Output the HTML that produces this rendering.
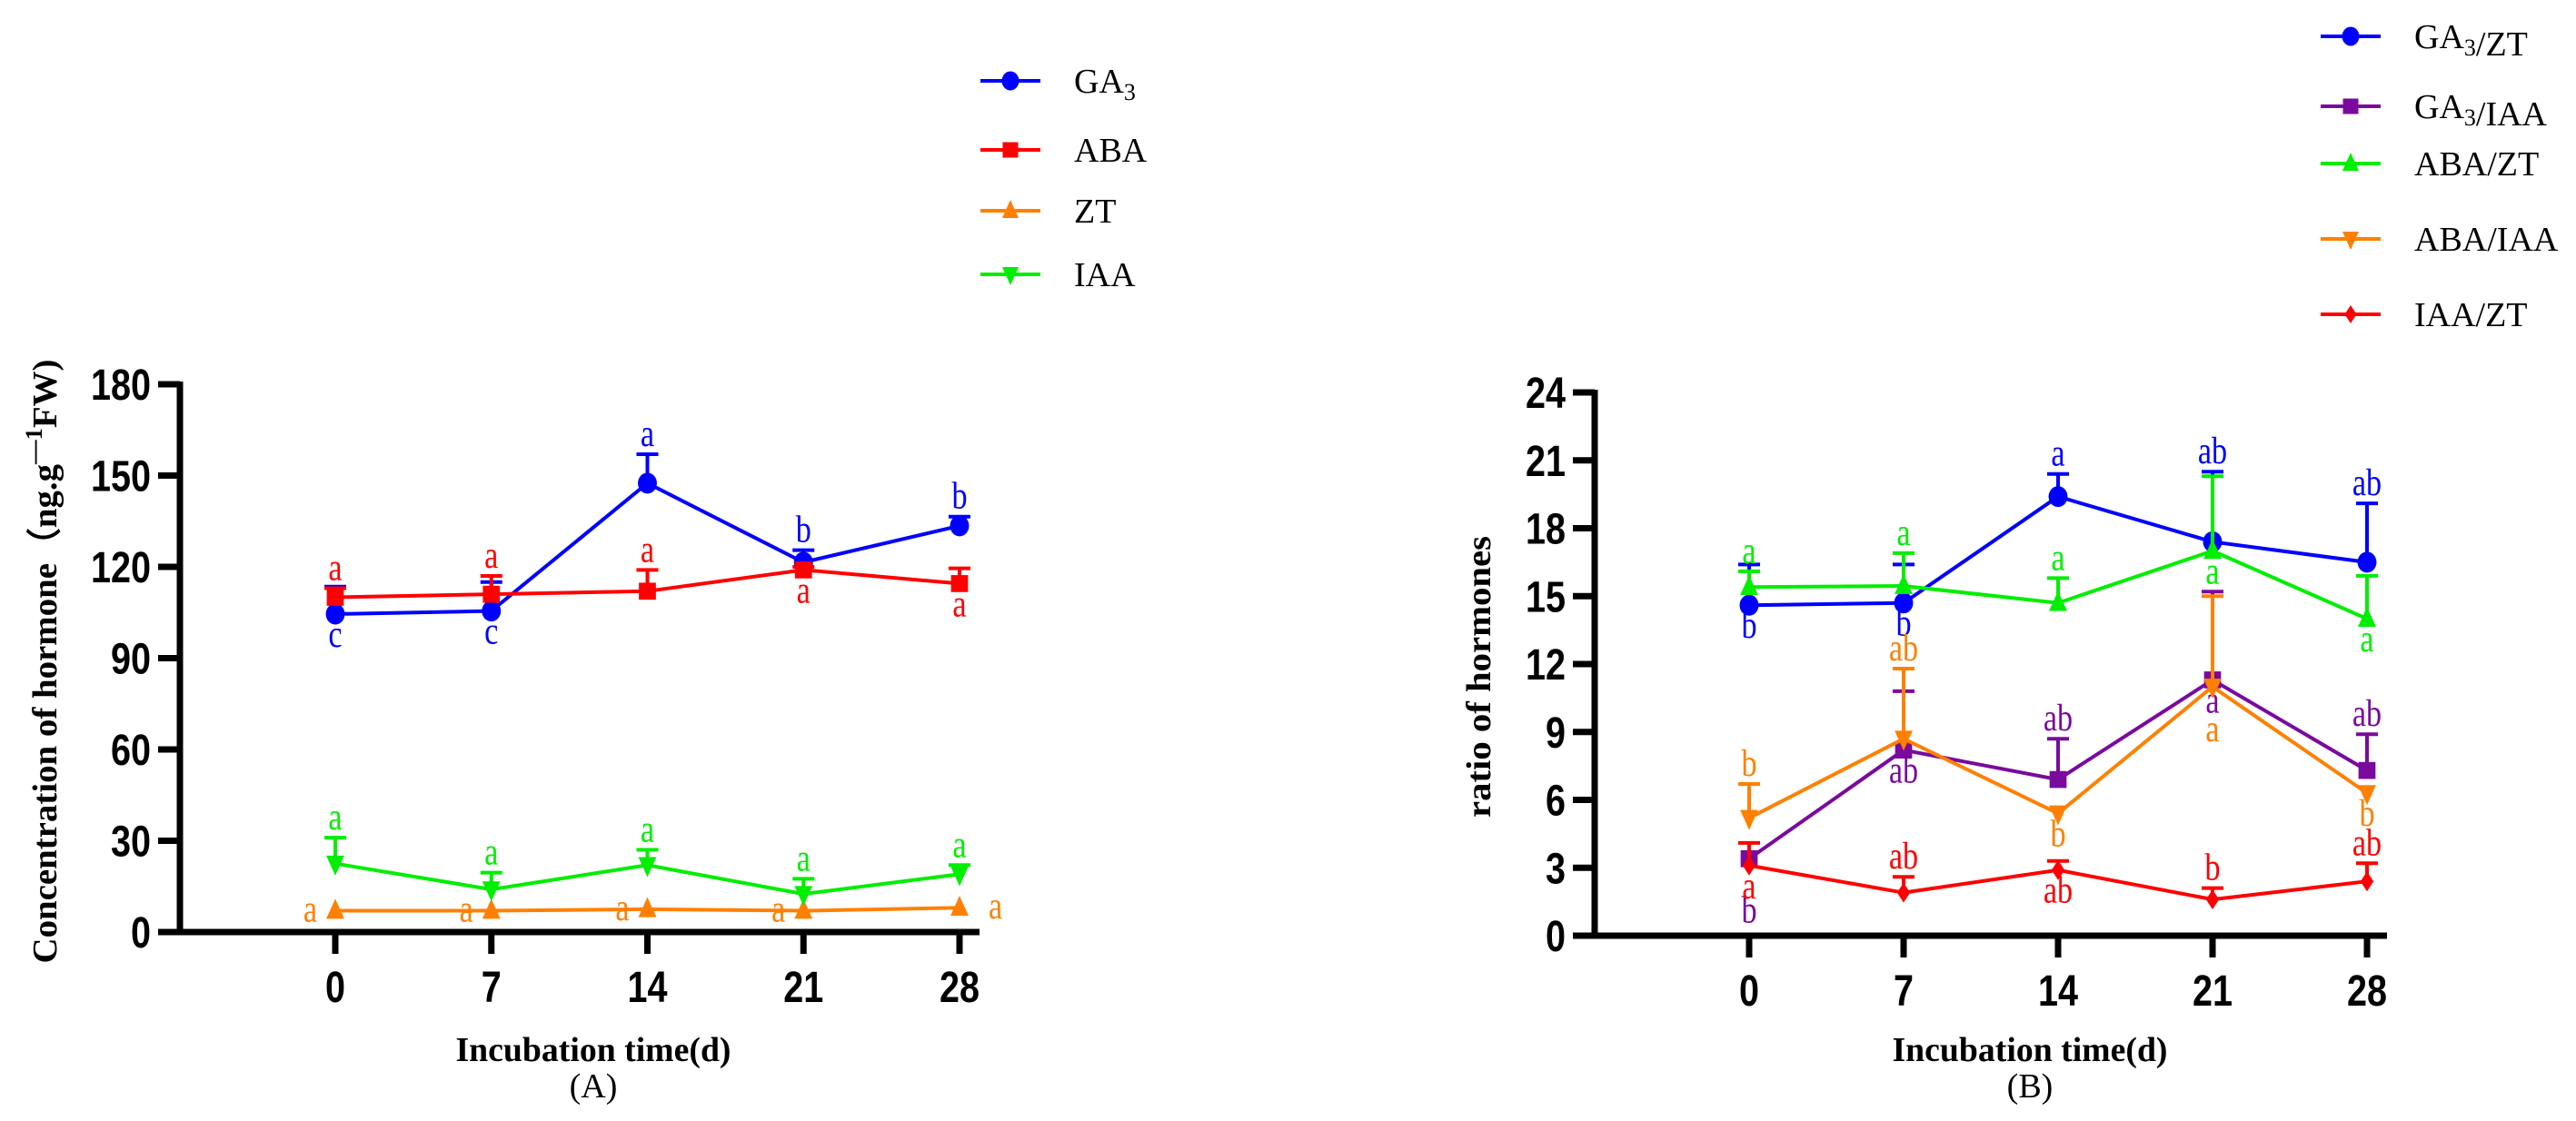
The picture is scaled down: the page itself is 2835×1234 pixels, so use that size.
<!DOCTYPE html>
<html><head><meta charset="utf-8">
<style>
html,body{margin:0;padding:0;background:#fff;}
svg{display:block;}
.tick{font-family:"Liberation Sans",sans-serif;font-weight:bold;font-size:46px;}
.ser{font-family:"Liberation Serif",serif;}
</style></head>
<body>
<svg id="fig" width="2835" height="1234" viewBox="0 0 2835 1234" xmlns="http://www.w3.org/2000/svg">
</svg>
<script>
// ---------- shared categories ----------
const days = [0, 7, 14, 21, 28];
// ---------- Panel A data ----------
const yTicksA = [0, 30, 60, 90, 120, 150, 180];
const ga3 = [104.5, 105.5, 147.5, 121.5, 133.5];
const ga3Err = [113.5, 115, 157, 125.5, 136.5];
const ga3Lab = ['c', 'c', 'a', 'b', 'b'];
const ga3Side = ['down', 'down', 'up', 'up', 'up'];
const aba = [110, 111, 112, 119, 114.5];
const abaErr = [113, 117, 119, 120, 119.5];
const abaLab = ['a', 'a', 'a', 'a', 'a'];
const abaSide = ['up', 'up', 'up', 'down', 'down'];
const zt = [7, 7, 7.5, 7, 8];
const ztErr = [7, 7, 7.5, 7, 8];
const ztLab = ['a', 'a', 'a', 'a', 'a'];
const ztSide = ['left', 'left', 'left', 'left', 'right'];
const iaa = [22.5, 14, 22, 12.5, 19];
const iaaErr = [31, 19.5, 27, 17.5, 22];
const iaaLab = ['a', 'a', 'a', 'a', 'a'];
const iaaSide = ['up', 'up', 'up', 'up', 'up'];
// ---------- Panel B data ----------
const yTicksB = [0, 3, 6, 9, 12, 15, 18, 21, 24];
const ga3zt = [14.6, 14.7, 19.4, 17.4, 16.5];
const ga3ztErr = [16.4, 16.4, 20.4, 20.5, 19.1];
const ga3ztLab = ['b', 'b', 'a', 'ab', 'ab'];
const ga3ztSide = ['down', 'down', 'up', 'up', 'up'];
const ga3iaa = [3.4, 8.2, 6.9, 11.3, 7.3];
const ga3iaaErr = [3.4, 10.8, 8.7, 15.2, 8.9];
const ga3iaaLab = ['b', 'ab', 'ab', 'a', 'ab'];
const ga3iaaSide = ['down2', 'down', 'up', 'down', 'up'];
const abazt = [15.4, 15.45, 14.7, 17.0, 14.0];
const abaztErr = [16.1, 16.9, 15.8, 20.3, 15.9];
const abaztLab = ['a', 'a', 'a', 'a', 'a'];
const abaztSide = ['up', 'up', 'up', 'down', 'down'];
const abaiaa = [5.2, 8.7, 5.4, 11.0, 6.3];
const abaiaaErr = [6.7, 11.8, 5.4, 15.0, 6.3];
const abaiaaLab = ['b', 'ab', 'b', 'a', 'b'];
const abaiaaSide = ['up', 'up', 'down', 'down3', 'down'];
const iaazt = [3.1, 1.9, 2.9, 1.6, 2.4];
const iaaztErr = [4.1, 2.6, 3.3, 2.1, 3.2];
const iaaztLab = ['a', 'ab', 'ab', 'b', 'ab'];
const iaaztSide = ['down', 'up', 'down', 'up', 'up'];

const NS = 'http://www.w3.org/2000/svg';
const svg = document.getElementById('fig');
function mk(tag, attrs, parent, txt) {
  const e = document.createElementNS(NS, tag);
  for (const k in attrs) e.setAttribute(k, attrs[k]);
  if (txt !== undefined) e.textContent = txt;
  (parent || svg).appendChild(e);
  return e;
}
function marker(g, shape, x, y, c, s) {
  let e;
  if (shape === 'circle') e = mk('ellipse', {cx: x, cy: y, rx: s * 0.95, ry: s * 1.05, fill: c}, g);
  else if (shape === 'square') e = mk('rect', {x: x - s * 0.85, y: y - s * 0.85, width: 1.7 * s, height: 1.7 * s, fill: c}, g);
  else if (shape === 'tri') e = mk('polygon', {points: `${x},${y - s * 1.2} ${x - s * 0.9},${y + s * 0.8} ${x + s * 0.9},${y + s * 0.8}`, fill: c}, g);
  else if (shape === 'itri') e = mk('polygon', {points: `${x},${y + s * 1.2} ${x - s * 0.9},${y - s * 0.8} ${x + s * 0.9},${y - s * 0.8}`, fill: c}, g);
  else e = mk('polygon', {points: `${x},${y - s * 1.0} ${x + s * 0.65},${y} ${x},${y + s * 1.0} ${x - s * 0.65},${y}`, fill: c}, g);
  return e;
}
function drawPanel(p) {
  const X = d => p.x0 + (d / 28) * (p.x28 - p.x0);
  const Y = v => p.yBase - (v / p.yMax) * (p.yBase - p.yTop);
  const g = mk('g', {});
  
  
  const ax = mk('g', {}, g);
  
  
  mk('line', {x1: p.axX, y1: p.yTop - 3, x2: p.axX, y2: p.yBase, stroke: '#000', 'stroke-width': 7}, ax);
  p.yTicks.forEach(t => {
    mk('line', {x1: p.axX - 24, y1: Y(t), x2: p.axX, y2: Y(t), stroke: '#000', 'stroke-width': 7}, ax);
    const tl = mk('text', {x: 0, y: 0, 'text-anchor': 'end', class: 'tick', transform: `translate(${p.axX - 32},${Y(t) + 17}) scale(0.86,1.04)`}, ax, String(t));
    
    
  });
  const xa = mk('g', {}, g);
  
  
  mk('line', {x1: p.axX - 24, y1: p.yBase, x2: p.xEnd, y2: p.yBase, stroke: '#000', 'stroke-width': 7}, xa);
  days.forEach(d => {
    mk('line', {x1: X(d), y1: p.yBase, x2: X(d), y2: p.yBase + 24, stroke: '#000', 'stroke-width': 7}, xa);
    const tl = mk('text', {x: 0, y: 0, 'text-anchor': 'middle', class: 'tick', transform: `translate(${X(d)},${p.yBase + 77}) scale(0.86,1.04)`}, xa, String(d));
    
    
  });
  const xt = mk('text', {x: p.titleX, y: 1168, 'text-anchor': 'middle', class: 'ser', 'font-size': 38, 'font-weight': 'bold', textLength: 303, lengthAdjust: 'spacingAndGlyphs'}, g, 'Incubation time(d)');
  
  
  const pl = mk('text', {x: p.titleX, y: 1208, 'text-anchor': 'middle', class: 'ser', 'font-size': 38}, g, p.panelLabel);
  
  
  const yt = mk('text', {x: 0, y: 0, 'text-anchor': 'middle', class: 'ser', 'font-size': 38, 'font-weight': 'bold', transform: `translate(${p.yTitleX},${p.yTitleY}) rotate(-90)`}, g);
  
  
  yt.innerHTML = p.yTitle;
  if (p.yTitleLen) { yt.setAttribute('textLength', p.yTitleLen); yt.setAttribute('lengthAdjust', 'spacingAndGlyphs'); }
  p.series.forEach(s => {
    const sg = mk('g', {}, g);
    
    
    s.err.forEach((e, i) => {
      if (e > s.vals[i]) {
        mk('line', {x1: X(days[i]), y1: Y(s.vals[i]), x2: X(days[i]), y2: Y(e), stroke: s.c, 'stroke-width': 4}, sg);
        mk('line', {x1: X(days[i]) - 12, y1: Y(e), x2: X(days[i]) + 12, y2: Y(e), stroke: s.c, 'stroke-width': 4}, sg);
      }
    });
    const pts = s.vals.map((v, i) => X(days[i]) + ',' + Y(v)).join(' ');
    const ln = mk('polyline', {points: pts, fill: 'none', stroke: s.c, 'stroke-width': 4}, sg);
    
    
    s.vals.forEach((v, i) => {
      const m = marker(sg, s.shape, X(days[i]), Y(v), s.c, 11);
      
      
    });
    s.lab.forEach((L, i) => {
      const side = s.side[i];
      let x = X(days[i]), y, anchor = 'middle';
      if (side === 'up') y = Y(Math.max(s.err[i], s.vals[i])) - 9;
      else if (side === 'down') y = Y(s.vals[i]) + 36;
      else if (side === 'down2') y = Y(s.vals[i]) + 70;
      else if (side === 'down3') y = Y(s.vals[i]) + 60;
      else if (side === 'left') { x -= 20; y = Y(s.vals[i]) + 12; anchor = 'end'; }
      else { x += 32; y = Y(s.vals[i]) + 12; anchor = 'start'; }
      const t = mk('text', {x: 0, y: 0, 'text-anchor': anchor, class: 'ser', 'font-size': 38, fill: s.c, transform: `translate(${x},${y}) scale(0.9,1.1)`}, sg, L);
      
      
    });
  });
  const lg = mk('g', {}, g);
  
  
  p.series.forEach((s, i) => {
    const ly = p.legendY[i];
    const eg = mk('g', {}, lg);
    
    
    mk('line', {x1: p.legX - 33, y1: ly, x2: p.legX + 33, y2: ly, stroke: s.c, 'stroke-width': 4}, eg);
    marker(eg, s.shape, p.legX, ly, s.c, 10);
    const t = mk('text', {x: p.legX + 70, y: ly + 13, class: 'ser', 'font-size': 38}, eg);
    t.innerHTML = s.label;
  });
}
const sub3 = '<tspan font-size="26" dy="8">3</tspan><tspan dy="-8"></tspan>';
drawPanel({
  name: 'panel-a', x0: 369, x28: 1056, axX: 198, xEnd: 1078, yBase: 1026, yTop: 423, yMax: 180,
  yTicks: yTicksA, titleX: 653, panelLabel: '(A)',
  yTitle: 'Concentration of hormone（ng.g<tspan font-size="26" dy="-16">—1</tspan><tspan dy="16">FW)</tspan>',
  yTitleX: 62, yTitleY: 728, yTitleLen: 665,
  legX: 1112, legendY: [89, 165, 232, 302],
  series: [
    {name: 'ga3', label: 'GA' + sub3, c: '#0000ff', shape: 'circle', vals: ga3, err: ga3Err, lab: ga3Lab, side: ga3Side},
    {name: 'aba', label: 'ABA', c: '#ff0000', shape: 'square', vals: aba, err: abaErr, lab: abaLab, side: abaSide},
    {name: 'zt', label: 'ZT', c: '#ff8000', shape: 'tri', vals: zt, err: ztErr, lab: ztLab, side: ztSide},
    {name: 'iaa', label: 'IAA', c: '#00ee00', shape: 'itri', vals: iaa, err: iaaErr, lab: iaaLab, side: iaaSide}
  ]
});
drawPanel({
  name: 'panel-b', x0: 1925, x28: 2605, axX: 1755, xEnd: 2627, yBase: 1030, yTop: 432, yMax: 24,
  yTicks: yTicksB, titleX: 2234, panelLabel: '(B)',
  yTitle: 'ratio of hormones', yTitleX: 1640, yTitleY: 745, yTitleLen: 310,
  legX: 2587, legendY: [40, 117, 180, 263, 346],
  series: [
    {name: 'ga3-zt', label: 'GA' + sub3 + '/ZT', c: '#0000ff', shape: 'circle', vals: ga3zt, err: ga3ztErr, lab: ga3ztLab, side: ga3ztSide},
    {name: 'ga3-iaa', label: 'GA' + sub3 + '/IAA', c: '#7a0a9e', shape: 'square', vals: ga3iaa, err: ga3iaaErr, lab: ga3iaaLab, side: ga3iaaSide},
    {name: 'aba-zt', label: 'ABA/ZT', c: '#00ee00', shape: 'tri', vals: abazt, err: abaztErr, lab: abaztLab, side: abaztSide},
    {name: 'aba-iaa', label: 'ABA/IAA', c: '#ff8000', shape: 'itri', vals: abaiaa, err: abaiaaErr, lab: abaiaaLab, side: abaiaaSide},
    {name: 'iaa-zt', label: 'IAA/ZT', c: '#ff0000', shape: 'diamond', vals: iaazt, err: iaaztErr, lab: iaaztLab, side: iaaztSide}
  ]
});
</script>
</body></html>
